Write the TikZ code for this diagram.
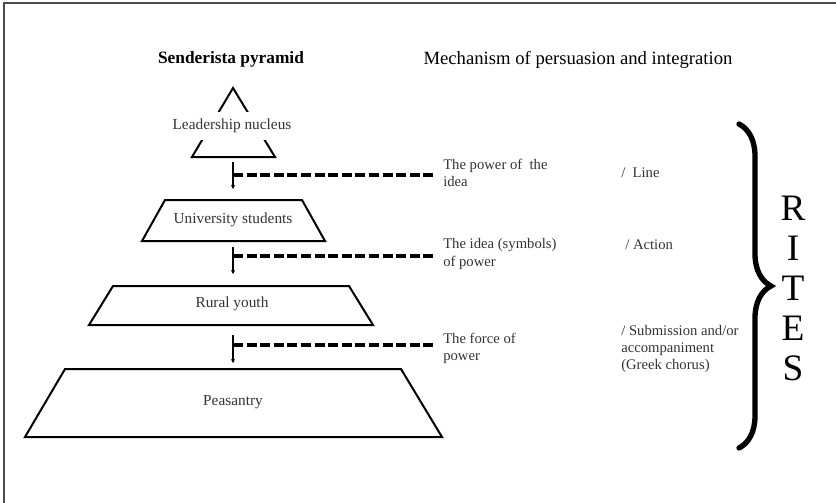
\documentclass[tikz,border=0pt]{standalone}
\usepackage{fontspec}
\setmainfont{Liberation Serif}
\usetikzlibrary{arrows.meta,decorations.pathreplacing}

\begin{document}
\begin{tikzpicture}[x=0.75pt,y=0.75pt,yscale=-1,xscale=1,
  layer/.style={line width=1.5pt,line join=miter},
  stub/.style={line width=1pt,-{Stealth[length=3pt,width=3pt]}},
  link/.style={line width=2.3pt,dash pattern=on 7.5pt off 2.7pt},
  lbl/.style={inner sep=0.75pt,text=black!80,font=\fontsize{11.5}{12.8}\selectfont},
  rlbl/.style={lbl,anchor=west,align=left,font=\fontsize{11}{12.8}\selectfont}]
\useasboundingbox (0,0) rectangle (836,503);

%frame
\draw [line width=1.2pt,black!70] (4,503) -- (4,3) -- (836,3) ;

% Text Node
\node [font=\fontsize{13}{15}\selectfont\bfseries] (ptitle) at (231,59) {Senderista pyramid};
% Text Node
\node [font=\fontsize{14}{16}\selectfont] (mtitle) at (578,60) {Mechanism of persuasion and integration};

%Shape: Triangle
\draw [layer] (233,88) -- (275,157) -- (192,157) -- cycle ;
%Shape: Trapezoid
\draw [layer] (165,200) -- (302,200) -- (325,241) -- (142,241) -- cycle ;
%Shape: Trapezoid
\draw [layer] (113,286) -- (349,286) -- (373,325) -- (89,325) -- cycle ;
%Shape: Trapezoid
\draw [layer] (65,369) -- (401,369) -- (442,437) -- (25,437) -- cycle ;

% Text Node
\node [lbl,fill=white,inner xsep=1pt,inner ysep=5pt] (lead) at (232,126) {Leadership nucleus};
% Text Node
\node [lbl] (univ) at (233,220) {University students};
% Text Node
\node [lbl] (rural) at (232,304) {Rural youth};
% Text Node
\node [lbl] (peas) at (233,402) {Peasantry};

% Text Node
\node [rlbl] (power) at (442,173) {The power of \ the\\idea};
% Text Node
\node [rlbl] (symb) at (442,254) {The idea (symbols)\\of power};
% Text Node
\node [rlbl] (force) at (442,348) {The force of\\power};
% Text Node
\node [rlbl] (line) at (620,173) {/ \ Line};
% Text Node
\node [rlbl] (action) at (624,245) {/ Action};
% Text Node
\node [rlbl] (chorus) at (620,349) {/ Submission and/or\\accompaniment\\(Greek chorus)};

%stubs and dashed links
\coordinate (s1) at (233,162); \coordinate (e1) at (233,189);
\coordinate (s2) at (233,247); \coordinate (e2) at (233,274);
\coordinate (s3) at (233,335); \coordinate (e3) at (233,363);
\coordinate (k1) at (233,175); \coordinate (k2) at (233,256); \coordinate (k3) at (233,345);
\draw [stub] (s1) -- (e1) ;
\draw [stub] (s2) -- (e2) ;
\draw [stub] (s3) -- (e3) ;
\draw [link] (k1) -- ([xshift=-4pt]k1 -| power.west) ;
\draw [link] (k2) -- ([xshift=-4pt]k2 -| symb.west) ;
\draw [link] (k3) -- ([xshift=-4pt]k3 -| force.west) ;

%Brace
\draw [line width=4pt,line cap=round,decorate,decoration={brace,amplitude=24pt}] (739,124) -- (739,448) ;
% Text Node
\node [font=\fontsize{28}{30}\selectfont,align=center,inner sep=0pt] (rites) at (793,288) {R\\I\\T\\E\\S};
\end{tikzpicture}
\end{document}
